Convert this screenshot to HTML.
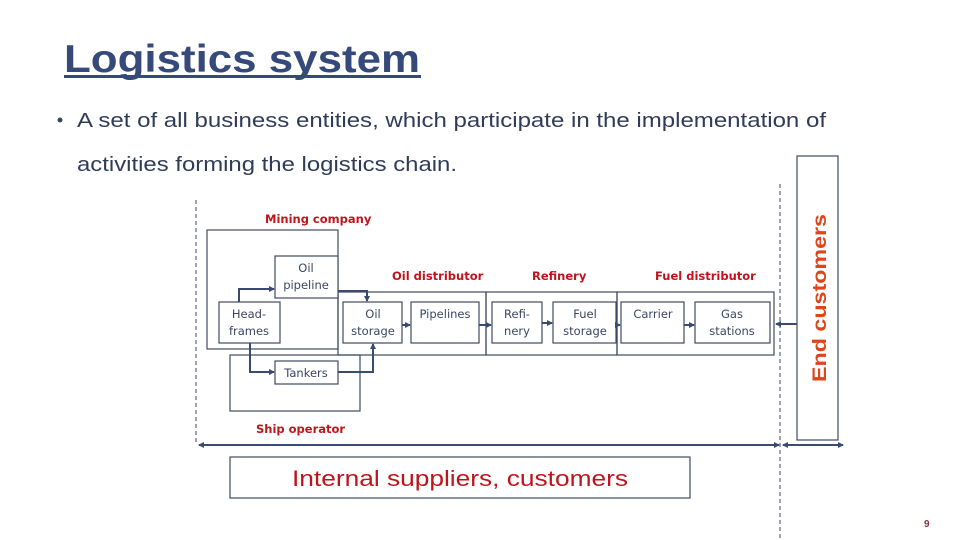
<!DOCTYPE html>
<html><head><meta charset="utf-8"><style>
html,body{margin:0;padding:0;background:#fff;}
svg{display:block}
text{font-family:"Liberation Sans",Arial,sans-serif}
.c{font-family:"DejaVu Sans","Liberation Sans",sans-serif;font-size:11.5px;fill:#3a4660}
.r{font-family:"DejaVu Sans","Liberation Sans",sans-serif;font-size:11.5px;fill:#c0141c;font-weight:bold}
</style></head><body>
<svg width="960" height="540" viewBox="0 0 960 540" xmlns="http://www.w3.org/2000/svg">
<defs><marker id="a" markerWidth="6" markerHeight="6" refX="5" refY="3" orient="auto" markerUnits="userSpaceOnUse"><path d="M0,0 L6,3 L0,6 z" fill="#3a4a70"/></marker></defs>
<text x="64" y="72" font-size="39" font-weight="bold" fill="#364a7a" textLength="356" lengthAdjust="spacingAndGlyphs">Logistics system</text>
<rect x="64" y="75" width="357" height="3" fill="#364a7a"/>
<circle cx="60" cy="120" r="2.5" fill="#3a4660"/>
<text x="77" y="127" font-size="20.5" fill="#2f3c58" textLength="749" lengthAdjust="spacingAndGlyphs">A set of all business entities, which participate in the implementation of</text>
<text x="77" y="171" font-size="20.5" fill="#2f3c58" textLength="380" lengthAdjust="spacingAndGlyphs">activities forming the logistics chain.</text>
<g fill="none" stroke="#3f4a62" stroke-width="1.2">
<rect x="207" y="230" width="131" height="119"/>
<rect x="230" y="355" width="130" height="56"/>
<rect x="338" y="292" width="148" height="63"/>
<rect x="486" y="292" width="131" height="63"/>
<rect x="617" y="292" width="157" height="63"/>
<rect x="275" y="256" width="63" height="42" fill="#fff"/>
<rect x="219" y="302" width="61" height="41" fill="#fff"/>
<rect x="275" y="361" width="63" height="23" fill="#fff"/>
<rect x="343" y="302" width="59" height="41"/>
<rect x="411" y="302" width="68" height="41"/>
<rect x="492" y="302" width="50" height="41"/>
<rect x="553" y="302" width="63" height="41"/>
<rect x="621" y="302" width="63" height="41"/>
<rect x="695" y="302" width="75" height="41"/>
<rect x="797" y="156" width="41" height="284"/>
<rect x="230" y="457" width="460" height="41"/>
</g>
<g fill="none" stroke="#3a4a70" stroke-width="2" marker-end="url(#a)">
<path d="M239,302 V289 H274"/>
<path d="M250,343 V372 H274"/>
<path d="M338,291 H367 V301"/>
<path d="M338,372 H373 V344"/>
<path d="M402,325 H410"/>
<path d="M479,325 H491"/>
<path d="M542,323 H552"/>
<path d="M616,325 H620"/>
<path d="M684,325 H694"/>
<path d="M797,324 H776"/>
<path d="M199,445 H779"/>
<path d="M783,445 H843"/>
<path d="M779,445 H199"/>
<path d="M843,445 H783"/>
</g>
<g stroke="#3f4a62" stroke-width="1" stroke-dasharray="4,3">
<line x1="196" y1="200" x2="196" y2="443"/>
<line x1="780" y1="184" x2="780" y2="540"/>
</g>
<text class="r" x="265" y="223">Mining company</text>
<text class="r" x="392" y="280">Oil distributor</text>
<text class="r" x="532" y="280">Refinery</text>
<text class="r" x="655" y="280">Fuel distributor</text>
<text class="r" x="256" y="433">Ship operator</text>
<text class="c" x="306" y="272" text-anchor="middle">Oil</text>
<text class="c" x="306" y="289" text-anchor="middle">pipeline</text>
<text class="c" x="249" y="318" text-anchor="middle">Head-</text>
<text class="c" x="249" y="335" text-anchor="middle">frames</text>
<text class="c" x="306" y="377" text-anchor="middle">Tankers</text>
<text class="c" x="373" y="318" text-anchor="middle">Oil</text>
<text class="c" x="373" y="335" text-anchor="middle">storage</text>
<text class="c" x="445" y="318" text-anchor="middle">Pipelines</text>
<text class="c" x="517" y="318" text-anchor="middle">Refi-</text>
<text class="c" x="517" y="335" text-anchor="middle">nery</text>
<text class="c" x="585" y="318" text-anchor="middle">Fuel</text>
<text class="c" x="585" y="335" text-anchor="middle">storage</text>
<text class="c" x="653" y="318" text-anchor="middle">Carrier</text>
<text class="c" x="732" y="318" text-anchor="middle">Gas</text>
<text class="c" x="732" y="335" text-anchor="middle">stations</text>
<text x="826" y="298" font-family="DejaVu Sans,sans-serif" font-size="19" font-weight="bold" fill="#e0451a" text-anchor="middle" transform="rotate(-90 826 298)" textLength="168" lengthAdjust="spacingAndGlyphs">End customers</text>
<text x="460" y="486" font-family="DejaVu Sans,sans-serif" font-size="22" fill="#c0141c" text-anchor="middle" textLength="336" lengthAdjust="spacingAndGlyphs">Internal suppliers, customers</text>
<text x="924" y="527" font-size="10" fill="#8a3040" font-weight="bold">9</text>
</svg>
</body></html>
